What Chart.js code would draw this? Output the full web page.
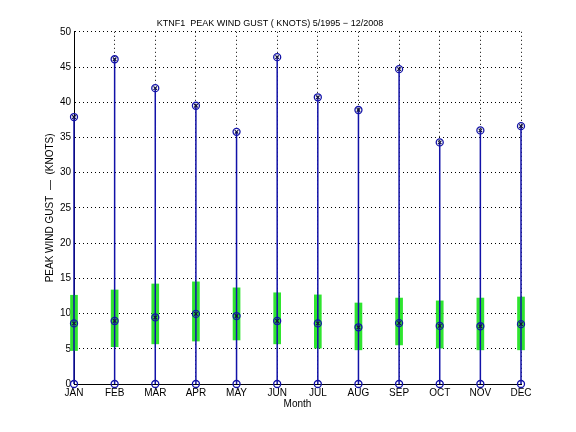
<!DOCTYPE html>
<html>
<head>
    <title>KTNF1 Peak Wind Gust</title>
    <script src="https://cdn.jsdelivr.net/npm/chart.js"></script>
    <style>
        body {
            margin: 0;
            background-color: white;
        }
        #wrap {
            width: 576px;
            height: 432px;
        }
    </style>
</head>
<body>
    <div id="wrap">
        <canvas id="gustChart" width="576" height="432"></canvas>
    </div>

    <script>
        const months = ['JAN', 'FEB', 'MAR', 'APR', 'MAY', 'JUN', 'JUL', 'AUG', 'SEP', 'OCT', 'NOV', 'DEC'];
        const maxGust = [37.9, 46.1, 42.0, 39.5, 35.8, 46.4, 40.7, 38.9, 44.7, 34.3, 36.0, 36.6];
        const meanGust = [8.6, 8.95, 9.45, 9.95, 9.65, 8.95, 8.6, 8.05, 8.65, 8.25, 8.2, 8.5];
        const stdLow = [4.75, 5.3, 5.7, 6.1, 6.25, 5.7, 5.1, 4.85, 5.55, 5.1, 4.85, 4.85];
        const stdHigh = [12.6, 13.35, 14.2, 14.5, 13.65, 12.95, 12.65, 11.5, 12.2, 11.8, 12.2, 12.35];

        const blue = '#1212a8';
        const green = '#2fe52f';
        const baseFont = { family: 'Liberation Sans, Arial, sans-serif', size: 10 };

        // vertical stems from 0 to the max, broken by nulls between months
        const stems = [];
        months.forEach((m, i) => {
            stems.push({ x: i + 1, y: 0 });
            stems.push({ x: i + 1, y: maxGust[i] });
            stems.push({ x: i + 1, y: null });
        });

        const markerPts = [];
        const crossPts = [];
        months.forEach((m, i) => {
            markerPts.push({ x: i + 1, y: 0 }, { x: i + 1, y: meanGust[i] }, { x: i + 1, y: maxGust[i] });
            crossPts.push({ x: i + 1, y: meanGust[i] }, { x: i + 1, y: maxGust[i] });
        });

        const ctx = document.getElementById('gustChart').getContext('2d');
        const gustChart = new Chart(ctx, {
            type: 'scatter',
            data: {
                datasets: [{
                    type: 'bar',
                    label: 'std',
                    data: months.map((m, i) => ({ x: i + 1, y: [stdLow[i], stdHigh[i]] })),
                    backgroundColor: green,
                    borderWidth: 0,
                    barThickness: 7,
                    grouped: false,
                    clip: false,
                    order: 4
                }, {
                    type: 'line',
                    label: 'stem',
                    data: stems,
                    borderColor: blue,
                    borderWidth: 1.5,
                    pointRadius: 0,
                    spanGaps: false,
                    clip: false,
                    order: 3
                }, {
                    label: 'marker',
                    data: markerPts,
                    pointStyle: 'circle',
                    pointRadius: 3.5,
                    borderColor: blue,
                    borderWidth: 1.3,
                    backgroundColor: 'rgba(0,0,0,0)',
                    clip: false,
                    order: 2
                }, {
                    label: 'cross',
                    data: crossPts,
                    pointStyle: 'crossRot',
                    pointRadius: 2.5,
                    borderColor: '#101040',
                    borderWidth: 1.2,
                    clip: false,
                    order: 1
                }]
            },
            options: {
                responsive: false,
                animation: false,
                layout: {
                    padding: { left: 19, right: 55, top: 0, bottom: 0 }
                },
                plugins: {
                    legend: { display: false },
                    tooltip: { enabled: false },
                    title: {
                        display: true,
                        text: 'KTNF1  PEAK WIND GUST ( KNOTS) 5/1995 \u2212 12/2008',
                        color: '#000',
                        font: { family: baseFont.family, size: 9, weight: 'normal' },
                        padding: { top: 18, bottom: 3 }
                    }
                },
                scales: {
                    x: {
                        type: 'linear',
                        min: 1,
                        max: 12,
                        offset: false,
                        grid: { color: '#000', lineWidth: 1, drawTicks: false, offset: false },
                        border: { color: '#000', width: 1, dash: [1, 3] },
                        ticks: {
                            stepSize: 1,
                            autoSkip: false,
                            maxRotation: 0,
                            color: '#000',
                            font: baseFont,
                            padding: 3,
                            callback: v => months[v - 1]
                        },
                        title: {
                            display: true,
                            text: 'Month',
                            color: '#000',
                            font: baseFont,
                            padding: { top: 0, bottom: 22 }
                        },
                        afterFit: scale => { scale.height = 48; }
                    },
                    y: {
                        min: 0,
                        max: 50,
                        grid: { color: '#000', lineWidth: 1, drawTicks: false },
                        border: { color: '#000', width: 1, dash: [1, 3] },
                        ticks: {
                            stepSize: 5,
                            color: '#000',
                            font: baseFont,
                            padding: 3
                        },
                        title: {
                            display: true,
                            text: 'PEAK WIND GUST  \u2014  (KNOTS)',
                            color: '#000',
                            font: baseFont,
                            padding: { top: 25, bottom: 0 }
                        },
                        afterFit: scale => { scale.width = 55; }
                    }
                }
            }
        });
    </script>
</body>
</html>
